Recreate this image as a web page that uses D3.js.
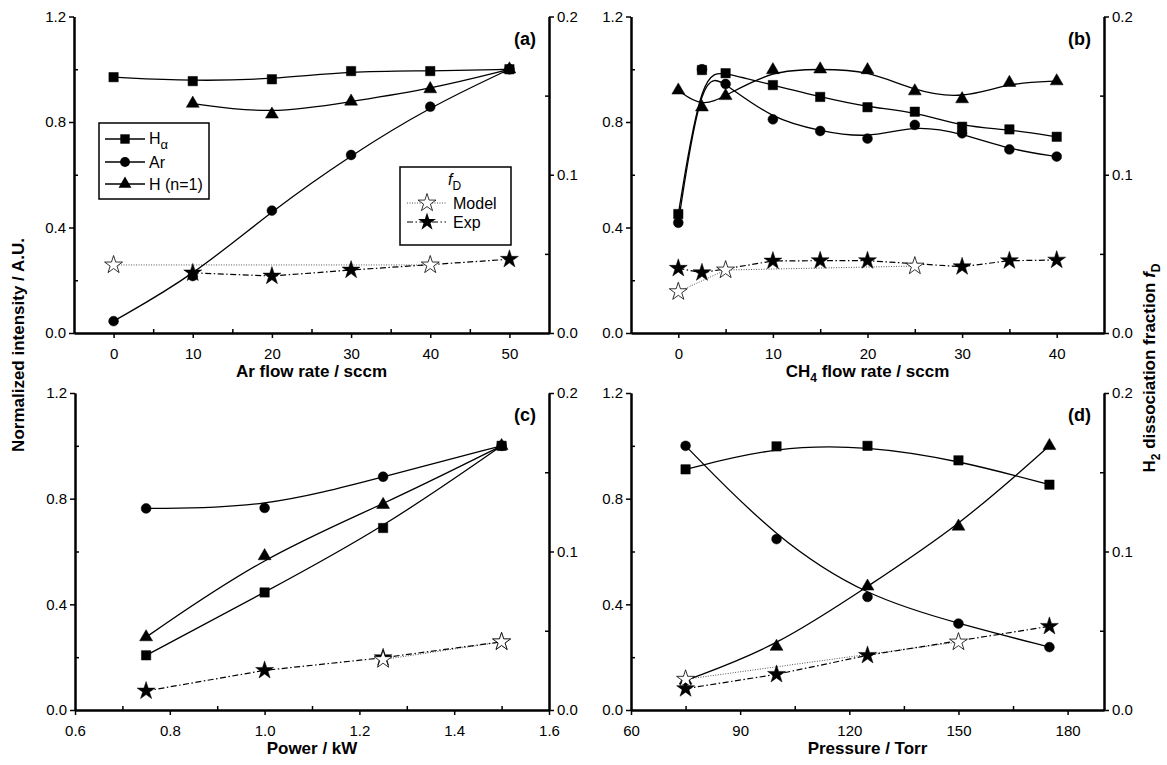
<!DOCTYPE html>
<html>
<head>
<meta charset="utf-8">
<script src="https://cdn.jsdelivr.net/npm/d3@7"></script>
<style>
body { margin: 0; background: #fff; }
text { font-family: "Liberation Sans", Arial, sans-serif; fill: #000; }
</style>
</head>
<body>
<div id="chart"></div>
<script>
// (a) Ar flow rate
var aX = [0, 10, 20, 30, 40, 50];
var aHalpha = [0.97, 0.955, 0.962, 0.993, 0.993, 1.0];
var aAr = [0.045, 0.216, 0.464, 0.675, 0.858, 1.0];
var aHnX = [10, 20, 30, 40, 50];
var aHn = [0.87, 0.829, 0.878, 0.925, 1.0];
var aModelX = [0, 40];
var aModel = [0.043, 0.043];
var aExpX = [10, 20, 30, 50];
var aExp = [0.038, 0.036, 0.0398, 0.0466];

// (b) CH4 flow rate
var bX = [0, 2.5, 5, 10, 15, 20, 25, 30, 35, 40];
var bHalpha = [0.451, 0.997, 0.985, 0.94, 0.895, 0.856, 0.839, 0.782, 0.772, 0.744];
var bAr = [0.418, 1.0, 0.944, 0.81, 0.766, 0.737, 0.789, 0.757, 0.696, 0.669];
var bHn = [0.92, 0.856, 0.899, 0.997, 1.0, 0.997, 0.917, 0.887, 0.949, 0.955];
var bModelX = [0, 5, 25];
var bModel = [0.0261, 0.0398, 0.0423];
var bExpX = [0, 2.5, 10, 15, 20, 30, 35, 40];
var bExp = [0.0409, 0.0381, 0.0455, 0.0457, 0.0457, 0.0419, 0.0457, 0.0461];

// (c) Power
var cX = [0.75, 1.0, 1.25, 1.5];
var cHalpha = [0.207, 0.445, 0.689, 1.0];
var cAr = [0.763, 0.765, 0.883, 1.0];
var cHn = [0.276, 0.583, 0.777, 1.0];
var cModelX = [1.25, 1.5];
var cModel = [0.0318, 0.043];
var cExpX = [0.75, 1.0, 1.25, 1.5];
var cExp = [0.012, 0.025, 0.033, 0.043];

// (d) Pressure
var dX = [75, 100, 125, 150, 175];
var dHalpha = [0.911, 0.998, 1.0, 0.945, 0.853];
var dAr = [1.0, 0.647, 0.428, 0.327, 0.238];
var dHn = [0.112, 0.24, 0.468, 0.695, 1.0];
var dModelX = [75, 150];
var dModel = [0.0194, 0.0429];
var dExpX = [75, 100, 125, 175];
var dExp = [0.0135, 0.0225, 0.0345, 0.0528];

var yLeftMajor = [0, 0.4, 0.8, 1.2];
var yLeftMinor = [0.2, 0.6, 1.0];
var yRightMajor = [0, 0.1, 0.2];
var yRightMinor = [0.05, 0.15];

function zip(xs, ys) { return xs.map(function(v, i){ return [v, ys[i]]; }); }

var svg = d3.select("#chart").append("svg")
    .attr("width", 1167)
    .attr("height", 765);

var sym = {
    square: d3.symbol().type(d3.symbolSquare).size(88)(),
    circle: d3.symbol().type(d3.symbolCircle).size(76)(),
    triangle: d3.symbol().type(d3.symbolTriangle).size(72)(),
    star: d3.symbol().type(d3.symbolStar).size(100)()
};

var dashDot = "6,2.5,1.5,2.5";
var dotted = "1,1.5";

var panels = [
    { x0: 74, x1: 549, y0: 16.5, y1: 333, xDomain: [-5, 55], xMajor: [0,10,20,30,40,50], xMinor: [5,15,25,35,45], fmt: d3.format("d"), label: "(a)",
      title: [["Ar flow rate / sccm", ""]],
      ha: zip(aX, aHalpha), ar: zip(aX, aAr), hn: zip(aHnX, aHn), model: zip(aModelX, aModel), exp: zip(aExpX, aExp) },
    { x0: 631, x1: 1104, y0: 16.5, y1: 333, xDomain: [-5, 45], xMajor: [0,10,20,30,40], xMinor: [5,15,25,35], fmt: d3.format("d"), label: "(b)",
      title: [["CH", ""], ["4", "sub"], [" flow rate / sccm", ""]],
      ha: zip(bX, bHalpha), ar: zip(bX, bAr), hn: zip(bX, bHn), model: zip(bModelX, bModel), exp: zip(bExpX, bExp) },
    { x0: 75, x1: 549, y0: 393, y1: 710, xDomain: [0.6, 1.6], xMajor: [0.6,0.8,1.0,1.2,1.4,1.6], xMinor: [0.7,0.9,1.1,1.3,1.5], fmt: d3.format(".1f"), label: "(c)",
      title: [["Power / kW", ""]],
      ha: zip(cX, cHalpha), ar: zip(cX, cAr), hn: zip(cX, cHn), model: zip(cModelX, cModel), exp: zip(cExpX, cExp) },
    { x0: 631, x1: 1104, y0: 393, y1: 710, xDomain: [60, 190], xMajor: [60,90,120,150,180], xMinor: [75,105,135,165], fmt: d3.format("d"), label: "(d)",
      title: [["Pressure / Torr", ""]],
      ha: zip(dX, dHalpha), ar: zip(dX, dAr), hn: zip(dX, dHn), model: zip(dModelX, dModel), exp: zip(dExpX, dExp) }
];

panels.forEach(function(p){
    var g = svg.append("g");
    var x = d3.scaleLinear().domain(p.xDomain).range([p.x0, p.x1]);
    var y = d3.scaleLinear().domain([0, 1.2]).range([p.y1, p.y0]);
    var yR = d3.scaleLinear().domain([0, 0.2]).range([p.y1, p.y0]);

    // axes: major ticks outward, minor ticks inward
    var ax = g.append("g").attr("transform", "translate(0," + p.y1 + ")")
        .call(d3.axisBottom(x).tickValues(p.xMajor).tickFormat(p.fmt).tickSize(5).tickSizeOuter(0).tickPadding(7));
    g.append("g").attr("transform", "translate(0," + p.y1 + ")")
        .call(d3.axisBottom(x).tickValues(p.xMinor).tickFormat("").tickSize(-4).tickSizeOuter(0));
    g.append("g").attr("transform", "translate(" + p.x0 + ",0)")
        .call(d3.axisLeft(y).tickValues(yLeftMajor).tickFormat(d3.format(".1f")).tickSize(5).tickSizeOuter(0).tickPadding(3));
    g.append("g").attr("transform", "translate(" + p.x0 + ",0)")
        .call(d3.axisLeft(y).tickValues(yLeftMinor).tickFormat("").tickSize(-4).tickSizeOuter(0));
    g.append("g").attr("transform", "translate(" + p.x1 + ",0)")
        .call(d3.axisRight(yR).tickValues(yRightMajor).tickFormat(d3.format(".1f")).tickSize(5).tickSizeOuter(0).tickPadding(3));
    g.append("g").attr("transform", "translate(" + p.x1 + ",0)")
        .call(d3.axisRight(yR).tickValues(yRightMinor).tickFormat("").tickSize(-4).tickSizeOuter(0));

    g.selectAll(".domain").attr("stroke", "#000").attr("stroke-width", 2);
    g.selectAll(".tick line").attr("stroke", "#000").attr("stroke-width", 1.5);
    g.selectAll(".tick text").attr("font-size", 15).attr("font-family", "Liberation Sans, Arial, sans-serif");
    ax.selectAll(".tick text").attr("dy", "0.95em");

    // x axis title
    var t = g.append("text")
        .attr("x", (p.x0 + p.x1) / 2)
        .attr("y", p.y1 + 44)
        .attr("text-anchor", "middle")
        .attr("font-size", 17)
        .attr("font-weight", "bold");
    p.title.forEach(function(s){
        var ts = t.append("tspan").text(s[0]);
        if (s[1] === "sub") ts.attr("font-size", 12).attr("dy", 5);
        else if (t.selectAll("tspan").size() > 1) ts.attr("dy", -5);
    });

    // panel label
    g.append("text")
        .attr("x", p.x1 - 13)
        .attr("y", p.y0 + 28)
        .attr("text-anchor", "end")
        .attr("font-size", 18)
        .attr("font-weight", "bold")
        .text(p.label);

    var curve = d3.line().x(function(d){ return x(d[0]); }).y(function(d){ return y(d[1]); }).curve(d3.curveBasis);
    var lineR = d3.line().x(function(d){ return x(d[0]); }).y(function(d){ return yR(d[1]); });

    g.append("path").attr("d", lineR(p.model)).attr("fill", "none")
        .attr("stroke", "#555").attr("stroke-width", 1).attr("stroke-dasharray", dotted);
    g.append("path").attr("d", lineR(p.exp)).attr("fill", "none")
        .attr("stroke", "#000").attr("stroke-width", 1.2).attr("stroke-dasharray", dashDot);
    [p.ha, p.ar, p.hn].forEach(function(s){
        g.append("path").attr("d", curve(s)).attr("fill", "none")
            .attr("stroke", "#000").attr("stroke-width", 1.3);
    });

    function marks(data, shape, scale, fill) {
        g.selectAll(null).data(data).enter().append("path")
            .attr("d", sym[shape])
            .attr("transform", function(d){ return "translate(" + x(d[0]) + "," + scale(d[1]) + ")"; })
            .attr("fill", fill)
            .attr("stroke", "#000")
            .attr("stroke-width", fill === "#fff" ? 0.8 : 0.5);
    }
    marks(p.ha, "square", y, "#000");
    marks(p.ar, "circle", y, "#000");
    marks(p.hn, "triangle", y, "#000");
    marks(p.exp, "star", yR, "#000");
    marks(p.model, "star", yR, "#fff");
});

// legend 1 (panel a)
var leg1 = svg.append("g");
leg1.append("rect").attr("x", 99).attr("y", 123).attr("width", 110).attr("height", 76)
    .attr("fill", "#fff").attr("stroke", "#000").attr("stroke-width", 1.5);
var leg1Items = [["square", 139], ["circle", 162], ["triangle", 184]];
leg1Items.forEach(function(it){
    leg1.append("line").attr("x1", 105).attr("x2", 145).attr("y1", it[1]).attr("y2", it[1])
        .attr("stroke", "#000").attr("stroke-width", 1.3);
    leg1.append("path").attr("d", sym[it[0]]).attr("transform", "translate(125," + it[1] + ")");
});
var l1 = leg1.append("text").attr("x", 149).attr("y", 144).attr("font-size", 16);
l1.append("tspan").text("H");
l1.append("tspan").text("\u03b1").attr("font-size", 13).attr("dy", 5);
leg1.append("text").attr("x", 149).attr("y", 168).attr("font-size", 16).text("Ar");
leg1.append("text").attr("x", 149).attr("y", 190).attr("font-size", 16).text("H (n=1)");

// legend 2 (panel a)
var leg2 = svg.append("g");
leg2.append("rect").attr("x", 400).attr("y", 167).attr("width", 111).attr("height", 78)
    .attr("fill", "#fff").attr("stroke", "#000").attr("stroke-width", 1.5);
var l2 = leg2.append("text").attr("x", 448).attr("y", 185).attr("font-size", 16);
l2.append("tspan").text("f").attr("font-style", "italic");
l2.append("tspan").text("D").attr("font-size", 12).attr("dy", 5);
leg2.append("line").attr("x1", 407).attr("x2", 446).attr("y1", 203).attr("y2", 203)
    .attr("stroke", "#555").attr("stroke-width", 1).attr("stroke-dasharray", dotted);
leg2.append("path").attr("d", sym.star).attr("transform", "translate(427,203)")
    .attr("fill", "#fff").attr("stroke", "#000").attr("stroke-width", 0.8);
leg2.append("text").attr("x", 453).attr("y", 209).attr("font-size", 16).text("Model");
leg2.append("line").attr("x1", 407).attr("x2", 446).attr("y1", 222).attr("y2", 222)
    .attr("stroke", "#000").attr("stroke-width", 1.2).attr("stroke-dasharray", dashDot);
leg2.append("path").attr("d", sym.star).attr("transform", "translate(427,222)");
leg2.append("text").attr("x", 453).attr("y", 228).attr("font-size", 16).text("Exp");

// shared axis titles
svg.append("text")
    .attr("transform", "translate(24,345) rotate(-90)")
    .attr("text-anchor", "middle")
    .attr("font-size", 17)
    .attr("font-weight", "bold")
    .text("Normalized intensity / A.U.");

var rt = svg.append("text")
    .attr("transform", "translate(1155,368) rotate(-90)")
    .attr("text-anchor", "middle")
    .attr("font-size", 17)
    .attr("font-weight", "bold");
rt.append("tspan").text("H");
rt.append("tspan").text("2").attr("font-size", 12).attr("dy", 5);
rt.append("tspan").text(" dissociation fraction ").attr("dy", -5);
rt.append("tspan").text("f").attr("font-style", "italic");
rt.append("tspan").text("D").attr("font-size", 12).attr("dy", 5);
</script>
</body>
</html>
